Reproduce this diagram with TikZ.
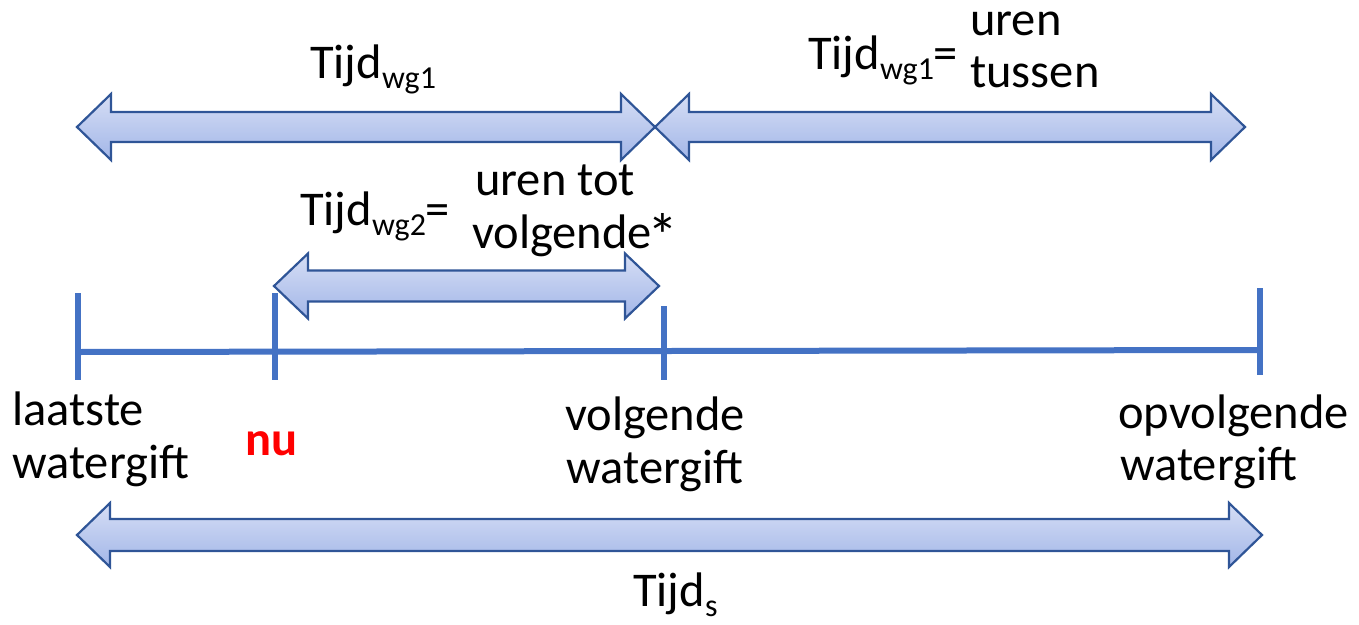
\documentclass[tikz,border=0pt]{standalone}
\usepackage{fontspec}
\setmainfont{Carlito}
\definecolor{tl}{HTML}{4472C4}
\definecolor{ao}{HTML}{2F5597}
\definecolor{atop}{HTML}{D6DEF5}
\definecolor{abot}{HTML}{A2B6E8}
\tikzset{
  blockarr/.style={draw=ao, line width=2.2pt, top color=atop, bottom color=abot, line join=miter},
  tline/.style={draw=tl, line width=6pt},
  lbl/.style={font=\fontsize{48.5}{52}\selectfont, inner sep=0pt, anchor=base west, text=black},
}
\newcommand{\mysub}[1]{\raisebox{-10pt}{\fontsize{32}{32}\selectfont #1}}
\newcommand{\bigast}{\kern-5pt\raisebox{-9pt}{\fontsize{62}{62}\selectfont *}}
\newcommand{\blockarrow}[6]{%
  \path[blockarr] ({#1},{#3}) -- ({#1+#6},{#3-#5}) -- ({#1+#6},{#3-#4}) -- ({#2-#6},{#3-#4})
    -- ({#2-#6},{#3-#5}) -- ({#2},{#3}) -- ({#2-#6},{#3+#5}) -- ({#2-#6},{#3+#4})
    -- ({#1+#6},{#3+#4}) -- ({#1+#6},{#3+#5}) -- cycle;}
\begin{document}
\begin{tikzpicture}[x=1pt,y=-1pt]
\useasboundingbox (0,0) rectangle (1359,624);
% block arrows
\blockarrow{77}{655}{127}{15}{33}{34}
\blockarrow{655}{1245}{127}{15}{33}{34}
\blockarrow{274}{659}{286}{15.5}{32.5}{34}
\blockarrow{77}{1262}{535}{16}{32}{33}
% timeline
\coordinate (t0) at (78,352);
\coordinate (t3) at (1258,350);
\coordinate (a0) at (78,293);  \coordinate (b0) at (78,380);
\coordinate (a1) at (275,293); \coordinate (b1) at (275,380);
\coordinate (a2) at (664,306); \coordinate (b2) at (664,380);
\coordinate (a3) at (1260,288); \coordinate (b3) at (1260,375);
\draw[tline] (t0) -- (t3);
\draw[tline] (a0) -- (b0);
\draw[tline] (a1) -- (b1);
\draw[tline] (a2) -- (b2);
\draw[tline] (a3) -- (b3);
% labels
\node[lbl] (tw1) at (310,78) {Tijd\mysub{wg1}};
\node[lbl] (tw1b) at (808,69) {Tijd\mysub{wg1}=};
\node[lbl] (uren1) at (970,35) {uren};
\node[lbl] (tussen) at (970,87) {tussen};
\node[lbl] (tw2) at (300,225) {Tijd\mysub{wg2}=};
\node[lbl] (uren2) at (475,195) {uren tot};
\node[lbl] (volg2) at (472,248) {volgende\bigast};
\node[lbl] (laat) at (12,425) {laatste};
\node[lbl] (wga) at (12,478) {watergift};
\node[lbl, text=red, font=\fontsize{48.5}{52}\selectfont\bfseries] (nu) at (245,455) {nu};
\node[lbl, anchor=base] (volg) at (655,430) {volgende};
\node[lbl, anchor=base] (wgb) at (655,483) {watergift};
\node[lbl] (opv) at (1118,428) {opvolgende};
\node[lbl] (wgc) at (1120,480) {watergift};
\node[lbl] (ts) at (633,606) {Tijd\mysub{s}};
\end{tikzpicture}
\end{document}
